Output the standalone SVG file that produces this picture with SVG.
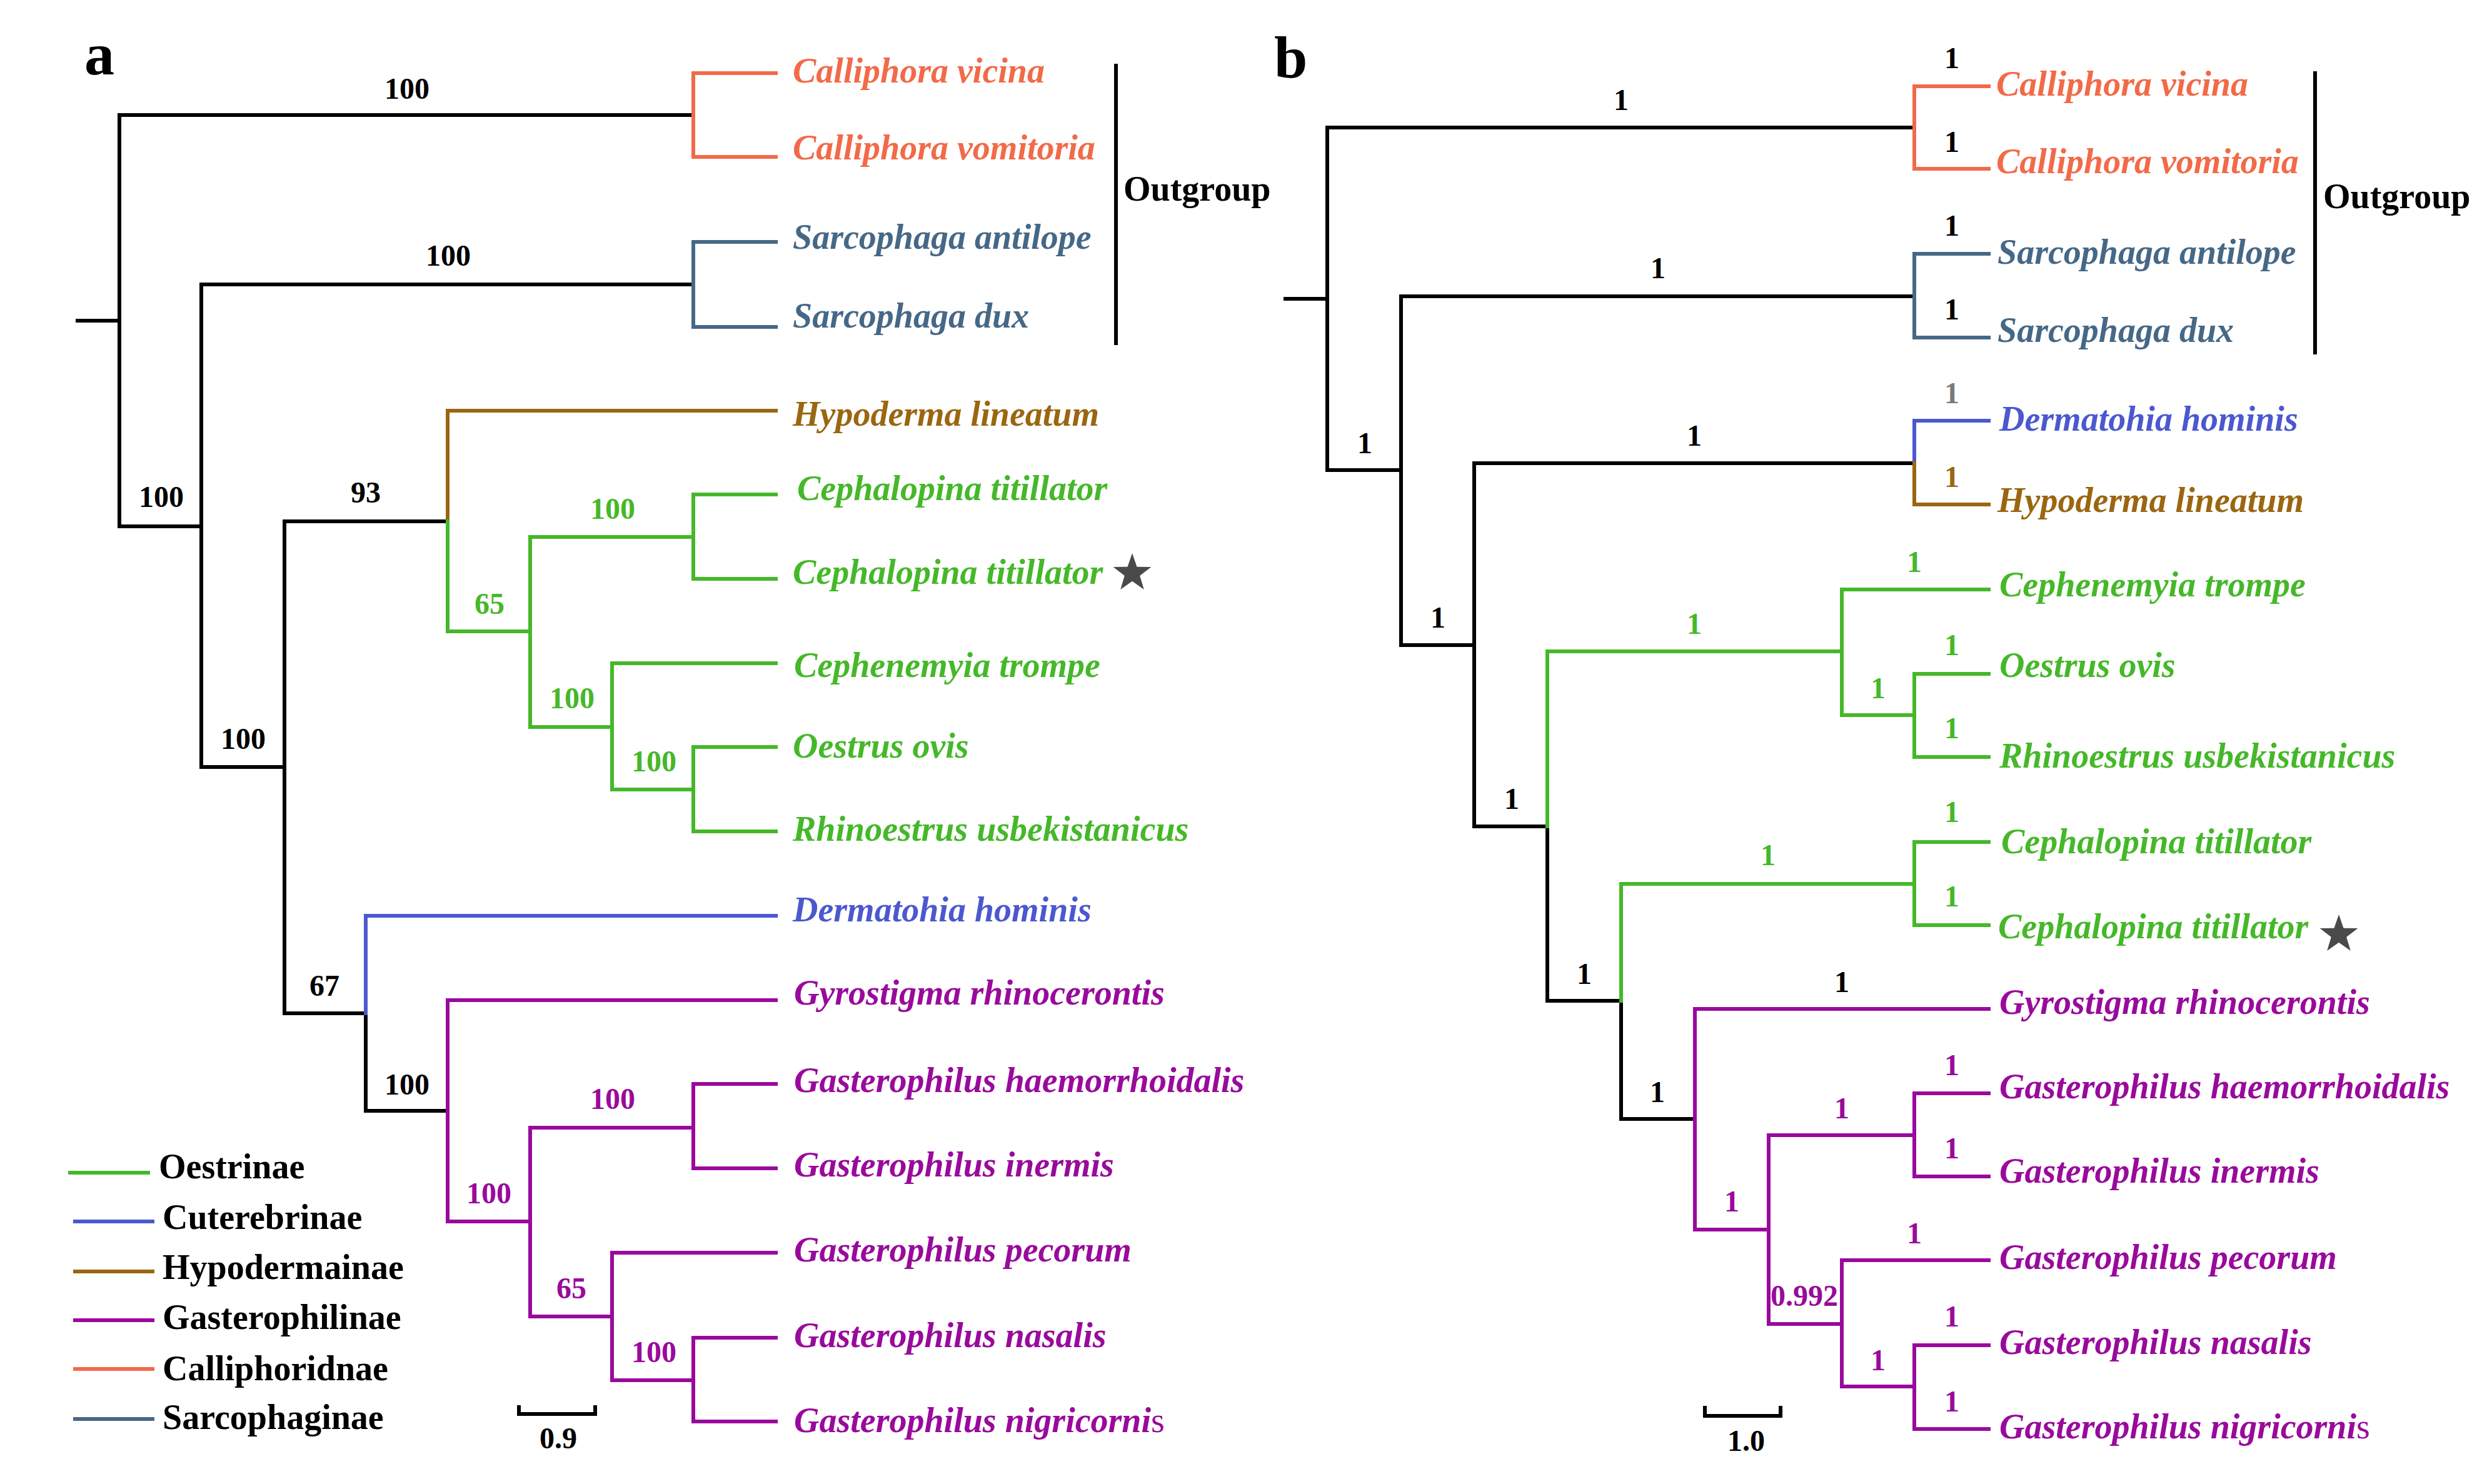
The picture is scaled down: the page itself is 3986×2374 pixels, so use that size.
<svg xmlns="http://www.w3.org/2000/svg" width="3986" height="2374" viewBox="0 0 3986 2374">
<style>
text{font-family:"Liberation Serif","Times New Roman",serif;font-weight:bold}
.leaf{font-size:56px;font-style:italic}
.sup{font-size:48px;text-anchor:middle}
.big{font-size:96px}
.lg{font-size:56px}
path{fill:none;stroke-width:6;stroke-linecap:square;stroke-linejoin:miter}
.k{stroke:#000}.o{stroke:#F26A48}.s{stroke:#466887}.br{stroke:#9A6610}.g{stroke:#45B829}.bl{stroke:#4B58CF}.p{stroke:#990A9C}
.tk{fill:#000}.to{fill:#F26A48}.ts{fill:#466887}.tbr{fill:#9A6610}.tg{fill:#45B829}.tbl{fill:#4B58CF}.tp{fill:#990A9C}.tgr{fill:#7a7a7a}
.star{fill:#4a4a4a}
</style>
<defs>
<polygon id="star" points="0,-32 7.5,-10.3 30.4,-9.9 12.2,3.9 18.8,25.9 0,12.8 -18.8,25.9 -12.2,3.9 -30.4,-9.9 -7.5,-10.3"/>
</defs>
<rect width="3986" height="2374" fill="#fff"/>

<!-- ===== Tree a ===== -->
<g id="connectors-a">
<path class="k" d="M124 513H191M191 184V842M191 184H1109M191 842H322M322 455V1227M322 455H1109M322 1227H455M455 834V1621M455 834H716M455 1621H585M585 1621V1777H716"/>
<path class="o" d="M1241 117H1109V251H1241"/>
<path class="s" d="M1241 387H1109V523H1241"/>
<path class="br" d="M1241 657H716V834"/>
<path class="g" d="M716 834V1010H848M848 859V1163M848 859H1109M1241 791H1109V926H1241M848 1163H979M1241 1061H979V1263H1109M1241 1195H1109V1330H1241"/>
<path class="bl" d="M1241 1465H585V1621"/>
<path class="p" d="M1241 1600H716V1954H848M848 1804V2106M848 1804H1109M1241 1734H1109V1869H1241M848 2106H979M1241 2004H979V2208H1109M1241 2140H1109V2274H1241"/>
<path class="k" d="M1785 105V549"/>
<path class="k" stroke-width="5" d="M830 2251V2262H952V2251"/>
</g>
<g id="support-a">
<text class="sup tk" x="651" y="158">100</text>
<text class="sup tk" x="717" y="425">100</text>
<text class="sup tk" x="258" y="811">100</text>
<text class="sup tk" x="585" y="804">93</text>
<text class="sup tk" x="389" y="1198">100</text>
<text class="sup tg" x="783" y="982">65</text>
<text class="sup tg" x="915" y="1133">100</text>
<text class="sup tg" x="980" y="830">100</text>
<text class="sup tg" x="1046" y="1234">100</text>
<text class="sup tk" x="519" y="1593">67</text>
<text class="sup tk" x="651" y="1751">100</text>
<text class="sup tp" x="782" y="1925">100</text>
<text class="sup tp" x="980" y="1774">100</text>
<text class="sup tp" x="914" y="2077">65</text>
<text class="sup tp" x="1046" y="2179">100</text>
</g>
<text class="big tk" x="135" y="119">a</text>
<g id="a-calliphora-vicina"><text class="leaf to" x="1268" y="132">Calliphora vicina</text></g>
<g id="a-calliphora-vomitoria"><text class="leaf to" x="1268" y="255">Calliphora vomitoria</text></g>
<g id="a-sarcophaga-antilope"><text class="leaf ts" x="1268" y="398">Sarcophaga antilope</text></g>
<g id="a-sarcophaga-dux"><text class="leaf ts" x="1268" y="524">Sarcophaga dux</text></g>
<g id="a-hypoderma"><text class="leaf tbr" x="1268" y="681">Hypoderma lineatum</text></g>
<g id="a-cephalopina-1"><text class="leaf tg" x="1275" y="800">Cephalopina titillator</text></g>
<g id="a-cephalopina-2"><text class="leaf tg" x="1268" y="934">Cephalopina titillator</text><use href="#star" class="star" x="1811" y="917"/></g>
<g id="a-cephenemyia"><text class="leaf tg" x="1270" y="1083">Cephenemyia trompe</text></g>
<g id="a-oestrus"><text class="leaf tg" x="1268" y="1212">Oestrus ovis</text></g>
<g id="a-rhinoestrus"><text class="leaf tg" x="1268" y="1345">Rhinoestrus usbekistanicus</text></g>
<g id="a-dermatohia"><text class="leaf tbl" x="1268" y="1474">Dermatohia hominis</text></g>
<g id="a-gyrostigma"><text class="leaf tp" x="1270" y="1607">Gyrostigma rhinocerontis</text></g>
<g id="a-g-haem"><text class="leaf tp" x="1270" y="1747">Gasterophilus haemorrhoidalis</text></g>
<g id="a-g-inermis"><text class="leaf tp" x="1270" y="1882">Gasterophilus inermis</text></g>
<g id="a-g-pecorum"><text class="leaf tp" x="1270" y="2018">Gasterophilus pecorum</text></g>
<g id="a-g-nasalis"><text class="leaf tp" x="1270" y="2155">Gasterophilus nasalis</text></g>
<g id="a-g-nigricornis"><text class="leaf tp" x="1270" y="2291">Gasterophilus nigricorni<tspan font-style="normal" font-weight="normal">s</tspan></text></g>
<g id="a-outgroup"><text class="lg tk" x="1797" y="321">Outgroup</text></g>
<g id="a-scale"><text class="sup tk" x="893" y="2317">0.9</text></g>

<g id="legend">
<path class="g" stroke-width="5" d="M112 1876H237"/>
<path class="bl" stroke-width="5" d="M120 1954H244"/>
<path class="br" stroke-width="5" d="M120 2034H244"/>
<path class="p" stroke-width="5" d="M120 2112H244"/>
<path class="o" stroke-width="5" d="M120 2190H244"/>
<path class="s" stroke-width="5" d="M120 2270H244"/>
<text class="lg tk" x="254" y="1885">Oestrinae</text>
<text class="lg tk" x="260" y="1966">Cuterebrinae</text>
<text class="lg tk" x="260" y="2046">Hypodermainae</text>
<text class="lg tk" x="260" y="2126">Gasterophilinae</text>
<text class="lg tk" x="260" y="2208">Calliphoridnae</text>
<text class="lg tk" x="260" y="2286">Sarcophaginae</text>
</g>

<!-- ===== Tree b ===== -->
<g id="connectors-b">
<path class="k" d="M2056 478H2123M2123 204V752M2123 204H3062M2123 752H2241M2241 474V1032M2241 474H3062M2241 1032H2358M2358 741V1322M2358 741H3062M2358 1322H2475M2475 1322V1601H2593M2593 1601V1790H2711"/>
<path class="o" d="M3181 138H3062V270H3181"/>
<path class="s" d="M3181 406H3062V540H3181"/>
<path class="bl" d="M3181 673H3062V741"/>
<path class="br" d="M3062 741V807H3181"/>
<path class="g" d="M2475 1322V1042H2946M3181 943H2946V1144H3062M3181 1078H3062V1211H3181M2593 1601V1414H3062M3181 1347H3062V1480H3181"/>
<path class="p" d="M3181 1614H2711V1967H2829M3062 1816H2829V2118H2946M3181 1749H3062V1882H3181M3181 2016H2946V2218H3062M3181 2152H3062V2286H3181"/>
<path class="k" d="M3703 117V564"/>
<path class="k" stroke-width="5" d="M2727 2252V2265H2848V2252"/>
</g>
<g id="support-b">
<text class="sup tk" x="2593" y="176">1</text>
<text class="sup tk" x="2183" y="725">1</text>
<text class="sup tk" x="2652" y="445">1</text>
<text class="sup tk" x="2300" y="1004">1</text>
<text class="sup tk" x="2710" y="713">1</text>
<text class="sup tg" x="2710" y="1014">1</text>
<text class="sup tk" x="2418" y="1294">1</text>
<text class="sup tk" x="2534" y="1574">1</text>
<text class="sup tg" x="2828" y="1384">1</text>
<text class="sup tk" x="2651" y="1763">1</text>
<text class="sup tk" x="2946" y="1587">1</text>
<text class="sup tp" x="2770" y="1938">1</text>
<text class="sup tp" x="2946" y="1789">1</text>
<text class="sup tp" x="2886" y="2089">0.992</text>
<text class="sup tp" x="3062" y="1989">1</text>
<text class="sup tp" x="3004" y="2192">1</text>
<text class="sup tg" x="3062" y="915">1</text>
<text class="sup tg" x="3004" y="1117">1</text>
<text class="sup tk" x="3122" y="109">1</text>
<text class="sup tk" x="3122" y="243">1</text>
<text class="sup tk" x="3122" y="377">1</text>
<text class="sup tk" x="3122" y="511">1</text>
<text class="sup tgr" x="3122" y="645">1</text>
<text class="sup tbr" x="3122" y="779">1</text>
<text class="sup tg" x="3122" y="1048">1</text>
<text class="sup tg" x="3122" y="1181">1</text>
<text class="sup tg" x="3122" y="1315">1</text>
<text class="sup tg" x="3122" y="1450">1</text>
<text class="sup tp" x="3122" y="1720">1</text>
<text class="sup tp" x="3122" y="1853">1</text>
<text class="sup tp" x="3122" y="2122">1</text>
<text class="sup tp" x="3122" y="2258">1</text>
</g>
<text class="big tk" x="2038" y="124">b</text>
<g id="b-calliphora-vicina"><text class="leaf to" x="3193" y="153">Calliphora vicina</text></g>
<g id="b-calliphora-vomitoria"><text class="leaf to" x="3193" y="277">Calliphora vomitoria</text></g>
<g id="b-sarcophaga-antilope"><text class="leaf ts" x="3195" y="422">Sarcophaga antilope</text></g>
<g id="b-sarcophaga-dux"><text class="leaf ts" x="3195" y="547">Sarcophaga dux</text></g>
<g id="b-dermatohia"><text class="leaf tbl" x="3198" y="689">Dermatohia hominis</text></g>
<g id="b-hypoderma"><text class="leaf tbr" x="3195" y="819">Hypoderma lineatum</text></g>
<g id="b-cephenemyia"><text class="leaf tg" x="3198" y="954">Cephenemyia trompe</text></g>
<g id="b-oestrus"><text class="leaf tg" x="3198" y="1083">Oestrus ovis</text></g>
<g id="b-rhinoestrus"><text class="leaf tg" x="3198" y="1228">Rhinoestrus usbekistanicus</text></g>
<g id="b-cephalopina-1"><text class="leaf tg" x="3201" y="1365">Cephalopina titillator</text></g>
<g id="b-cephalopina-2"><text class="leaf tg" x="3196" y="1501">Cephalopina titillator</text><use href="#star" class="star" x="3741" y="1495"/></g>
<g id="b-gyrostigma"><text class="leaf tp" x="3198" y="1622">Gyrostigma rhinocerontis</text></g>
<g id="b-g-haem"><text class="leaf tp" x="3198" y="1757">Gasterophilus haemorrhoidalis</text></g>
<g id="b-g-inermis"><text class="leaf tp" x="3198" y="1892">Gasterophilus inermis</text></g>
<g id="b-g-pecorum"><text class="leaf tp" x="3198" y="2030">Gasterophilus pecorum</text></g>
<g id="b-g-nasalis"><text class="leaf tp" x="3198" y="2166">Gasterophilus nasalis</text></g>
<g id="b-g-nigricornis"><text class="leaf tp" x="3198" y="2301">Gasterophilus nigricorni<tspan font-style="normal" font-weight="normal">s</tspan></text></g>
<g id="b-outgroup"><text class="lg tk" x="3716" y="333">Outgroup</text></g>
<g id="b-scale"><text class="sup tk" x="2793" y="2321">1.0</text></g>
</svg>
